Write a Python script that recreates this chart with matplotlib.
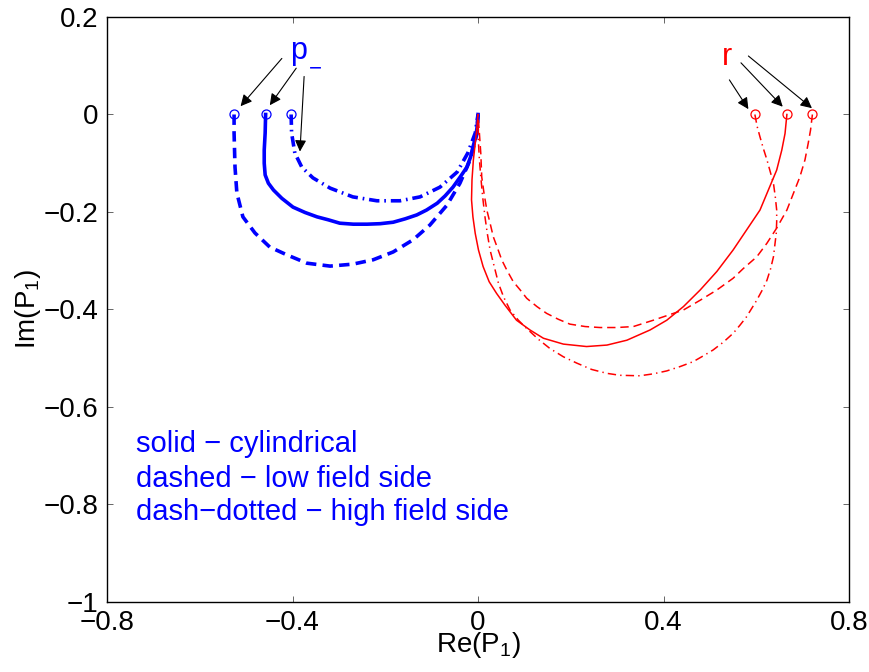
import matplotlib
matplotlib.use('Agg')
import matplotlib.pyplot as plt

# 字体设置，接近MATLAB的Helvetica
plt.rcParams['font.family'] = ['Liberation Sans', 'DejaVu Sans']
plt.rcParams['mathtext.fontset'] = 'custom'
plt.rcParams['mathtext.rm'] = 'Liberation Sans'
plt.rcParams['mathtext.it'] = 'Liberation Sans:italic'
plt.rcParams['mathtext.default'] = 'regular'
plt.rcParams['lines.scale_dashes'] = False

# p_- 分支（蓝色），从标记点到原点
blue_solid_x = [-0.458, -0.459, -0.461, -0.461, -0.459, -0.452, -0.441, -0.423, -0.399, -0.373,
                -0.347, -0.323, -0.298, -0.269, -0.239, -0.211, -0.183, -0.157, -0.132, -0.111,
                -0.088, -0.071, -0.054, -0.039, -0.024, -0.016, -0.011, -0.005, -0.002, 0.0]
blue_solid_y = [0.0, -0.038, -0.073, -0.100, -0.124, -0.141, -0.155, -0.172, -0.190, -0.201,
                -0.210, -0.216, -0.223, -0.225, -0.225, -0.224, -0.221, -0.214, -0.206, -0.196,
                -0.182, -0.167, -0.149, -0.129, -0.108, -0.087, -0.067, -0.046, -0.026, 0.0]
blue_dashed_x = [-0.526, -0.526, -0.524, -0.520, -0.507, -0.481, -0.449, -0.412, -0.369, -0.319,
                 -0.270, -0.226, -0.183, -0.140, -0.104, -0.067, -0.039, -0.017, -0.002, 0.0]
blue_dashed_y = [0.0, -0.038, -0.108, -0.161, -0.210, -0.243, -0.272, -0.288, -0.305, -0.311,
                 -0.307, -0.298, -0.282, -0.257, -0.227, -0.186, -0.141, -0.093, -0.038, 0.0]
blue_dashdot_x = [-0.403, -0.402, -0.395, -0.380, -0.356, -0.319, -0.270, -0.218, -0.168,
                  -0.125, -0.082, -0.045, -0.022, -0.006, 0.0]
blue_dashdot_y = [0.0, -0.038, -0.079, -0.108, -0.130, -0.151, -0.169, -0.177, -0.177,
                  -0.169, -0.149, -0.118, -0.079, -0.038, 0.0]

# r 分支（红色），从标记点到原点
red_solid_x = [0.666, 0.662, 0.655, 0.644, 0.626, 0.608, 0.579, 0.550, 0.515, 0.479, 0.443,
               0.407, 0.371, 0.321, 0.278, 0.234, 0.184, 0.141, 0.112, 0.083, 0.058,
               0.040, 0.024, 0.011, 0.001, -0.006, -0.011, -0.014, -0.013, -0.010, -0.006,
               -0.003, 0.0]
red_solid_y = [0.0, -0.039, -0.073, -0.114, -0.155, -0.196, -0.237, -0.278, -0.322, -0.360, -0.394,
               -0.422, -0.442, -0.463, -0.473, -0.476, -0.471, -0.459, -0.442, -0.422, -0.391,
               -0.367, -0.343, -0.312, -0.278, -0.244, -0.210, -0.175, -0.134, -0.093, -0.059,
               -0.032, 0.0]
red_dashed_x = [0.721, 0.717, 0.712, 0.705, 0.694, 0.680, 0.666, 0.644, 0.623, 0.601, 0.572, 0.550,
                0.515, 0.479, 0.443, 0.378, 0.335, 0.299, 0.263, 0.231, 0.198, 0.173, 0.148, 0.127,
                0.105, 0.091, 0.076, 0.062, 0.051, 0.042, 0.033, 0.026, 0.019, 0.013, 0.008,
                0.006, 0.003, 0.0]
red_dashed_y = [0.0, -0.032, -0.059, -0.093, -0.128, -0.162, -0.196, -0.233, -0.264, -0.292, -0.316,
                -0.336, -0.360, -0.381, -0.401, -0.422, -0.435, -0.437, -0.437, -0.435, -0.430,
                -0.420, -0.408, -0.394, -0.377, -0.360, -0.343, -0.319, -0.298, -0.274, -0.251,
                -0.223, -0.196, -0.162, -0.128, -0.080, -0.039, 0.0]
red_dashdot_x = [0.597, 0.602, 0.608, 0.615, 0.623, 0.630, 0.637, 0.641, 0.644, 0.644, 0.643, 0.640,
                 0.637, 0.631, 0.623, 0.613, 0.601, 0.590, 0.579, 0.565, 0.550, 0.529, 0.507, 0.486,
                 0.464, 0.436, 0.407, 0.378, 0.349, 0.306, 0.278, 0.245, 0.213, 0.184, 0.155,
                 0.130, 0.105, 0.087, 0.069, 0.055, 0.044, 0.035, 0.026, 0.020, 0.015, 0.010,
                 0.006, 0.003, 0.001, 0.0]
red_dashdot_y = [0.0, -0.025, -0.046, -0.069, -0.093, -0.117, -0.141, -0.169, -0.196, -0.220, -0.244,
                 -0.268, -0.292, -0.316, -0.340, -0.360, -0.381, -0.398, -0.415, -0.432, -0.449,
                 -0.467, -0.483, -0.495, -0.507, -0.517, -0.526, -0.532, -0.536, -0.535, -0.531,
                 -0.523, -0.510, -0.497, -0.480, -0.461, -0.439, -0.422, -0.401, -0.374, -0.346,
                 -0.312, -0.278, -0.244, -0.210, -0.169, -0.128, -0.093, -0.059, 0.0]

# 箭头：尾部 -> 头部
p_arrow_tails = [(-0.423, 0.115), (-0.392, 0.095), (-0.375, 0.078)]
p_arrow_heads = [(-0.512, 0.017), (-0.449, 0.019), (-0.384, -0.076)]
r_arrow_tails = [(0.542, 0.071), (0.567, 0.106), (0.583, 0.120)]
r_arrow_heads = [(0.583, 0.011), (0.657, 0.016), (0.720, 0.013)]

x_ticks = [-0.8, -0.4, 0, 0.4, 0.8]
x_tick_labels = ['\u22120.8', '\u22120.4', '0', '0.4', '0.8']
y_ticks = [-1, -0.8, -0.6, -0.4, -0.2, 0, 0.2]
y_tick_labels = ['\u22121', '\u22120.8', '\u22120.6', '\u22120.4', '\u22120.2', '0', '0.2']

legend_lines = ['solid \u2212 cylindrical', 'dashed \u2212 low field side',
                'dash\u2212dotted \u2212 high field side']

fig = plt.figure(figsize=(8.7, 6.72), dpi=100)
ax = fig.add_axes([0.123, 0.1042, 0.8529, 0.8705])

mk = dict(marker='o', markevery=[0], ms=6.5, mfc='none', mew=0.9)
ax.plot(blue_solid_x, blue_solid_y, color='b', lw=2.6, mec='b', **mk)
ax.plot(blue_dashed_x, blue_dashed_y, color='b', lw=2.6, dashes=(7.5, 4.5), mec='b', **mk)
ax.plot(blue_dashdot_x, blue_dashdot_y, color='b', lw=2.6, dashes=(7.5, 3.5, 1.2, 3.5), mec='b', **mk)
ax.plot(red_solid_x, red_solid_y, color='r', lw=1.1, mec='r', **mk)
ax.plot(red_dashed_x, red_dashed_y, color='r', lw=1.1, dashes=(6, 3.5), mec='r', **mk)
ax.plot(red_dashdot_x, red_dashdot_y, color='r', lw=1.1, dashes=(6, 3, 1, 3), mec='r', **mk)

arrow_props = dict(arrowstyle='-|>', color='k', lw=0.8, mutation_scale=17, shrinkA=0, shrinkB=0)
for tail, head in zip(p_arrow_tails + r_arrow_tails, p_arrow_heads + r_arrow_heads):
    ax.annotate('', xy=head, xytext=tail, arrowprops=arrow_props)

# p_- 标注（下标单独绘制）
ax.text(-0.405, 0.114, 'p', color='b', fontsize=22, ha='left', va='baseline')
ax.text(-0.364, 0.082, '\u2212', color='b', fontsize=16, ha='left', va='baseline')
ax.text(0.525, 0.1015, 'r', color='r', fontsize=22, ha='left', va='baseline')

legend_y = [-0.692, -0.764, -0.832]
for s, yy in zip(legend_lines, legend_y):
    ax.text(-0.7375, yy, s, color='b', fontsize=21, ha='left', va='baseline')

ax.set_xlim(-0.8, 0.8)
ax.set_ylim(-1, 0.2)
ax.set_xticks(x_ticks)
ax.set_xticklabels(x_tick_labels)
ax.set_yticks(y_ticks)
ax.set_yticklabels(y_tick_labels)
ax.tick_params(direction='in', length=4.5, width=0.6, color='0.3', labelsize=20,
               top=True, right=True, pad=6)
for sp in ax.spines.values():
    sp.set_linewidth(1.0)

ax.set_xlabel('Re(P$_1$)', fontsize=20)
ax.set_ylabel('Im(P$_1$)', fontsize=20)
ax.xaxis.set_label_coords(0.5, -0.048)
ax.yaxis.set_label_coords(-0.086, 0.5)

fig.savefig('out.png', dpi=100)
